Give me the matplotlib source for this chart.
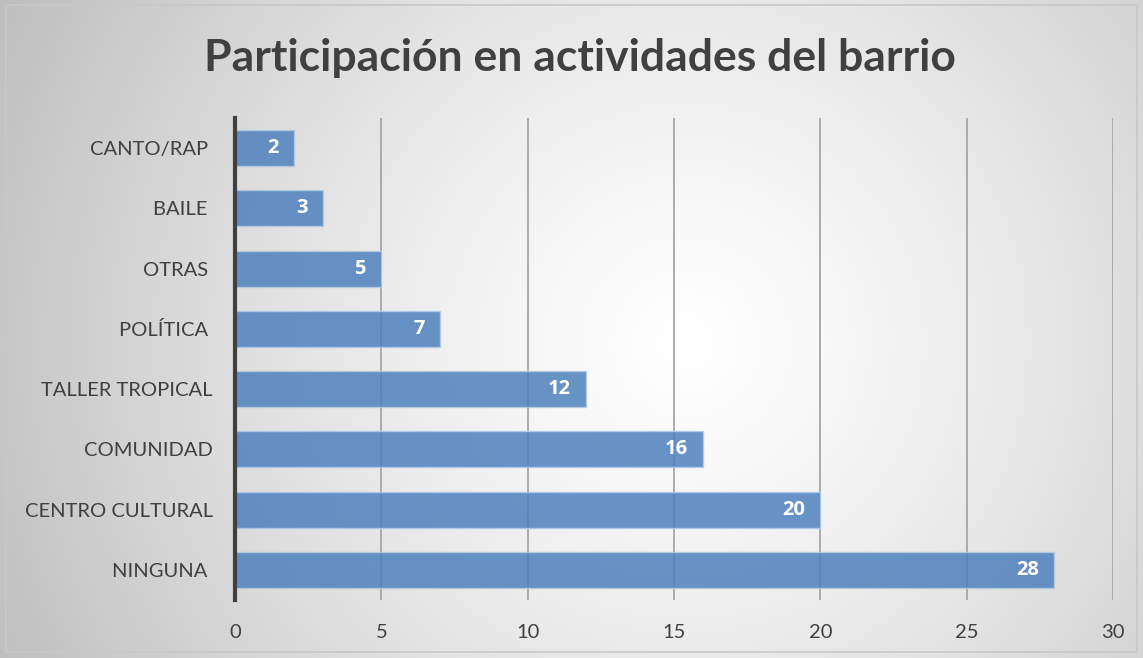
import numpy as np
import matplotlib
matplotlib.use("Agg")
import matplotlib.pyplot as plt
from matplotlib.patches import Rectangle

categories = ["CANTO/RAP ", "BAILE ", "OTRAS ", "POLÍTICA ", "TALLER TROPICAL",
              "COMUNIDAD", "CENTRO CULTURAL", "NINGUNA "]
values = [2, 3, 5, 7, 12, 16, 20, 28]
xticks = [0, 5, 10, 15, 20, 25, 30]
title = "Participación en actividades del barrio"

W, H = 1143, 658
fig = plt.figure(figsize=(W / 100, H / 100), dpi=100)

# radial gradient background
bg = fig.add_axes([0, 0, 1, 1], zorder=-10)
yy, xx = np.mgrid[0:H, 0:W]
cx, cy = 0.60 * W, 0.52 * H
r = np.sqrt(((xx - cx) / (0.60 * W)) ** 2 + ((yy - cy) / (0.60 * W)) ** 2)
val = 1.0 - 0.22 * np.clip(r, 0, 1.2) ** 1.3
bg.imshow(np.dstack([val, val, val]), extent=[0, W, H, 0], aspect="auto")
bg.set_xlim(0, W)
bg.set_ylim(H, 0)
bg.axis("off")
bg.add_patch(Rectangle((6, 5), W - 12, H - 11, fill=False, ec="#c8c8c8", lw=1.2))

ax = fig.add_axes([235 / W, 1 - 600 / H, (1113 - 235) / W, (600 - 118) / H])
ax.patch.set_alpha(0)
y = np.arange(len(categories))
bars = ax.barh(y, values, height=0.6, color="#4f81bd", alpha=0.85,
               edgecolor="#b4cbe6", linewidth=1, zorder=3)
for yi, v in zip(y, values):
    ax.annotate(str(v), xy=(v, yi), xytext=(-11, 0), textcoords="offset points",
                ha="right", va="center", color="white", fontsize=14.5,
                fontweight="bold", family="Open Sans", zorder=4)

ax.set_xlim(0, 30)
ax.set_ylim(len(categories) - 0.5, -0.5)
ax.set_xticks(xticks)
ax.set_xticklabels([str(t) for t in xticks])
ax.set_yticks(y)
ax.set_yticklabels(categories)
ax.grid(axis="x", color="#a6a6a6", lw=1.3, zorder=1)
for s in ["top", "right", "bottom"]:
    ax.spines[s].set_visible(False)
ax.spines["left"].set_color("#404040")
ax.spines["left"].set_linewidth(3)
ax.spines["left"].set_zorder(5)
ax.tick_params(axis="both", length=0, labelsize=14.5, labelcolor="#404040")
ax.tick_params(axis="y", pad=16)
ax.tick_params(axis="x", pad=17)
for lab in ax.get_xticklabels() + ax.get_yticklabels():
    lab.set_family("Lato")

fig.text(580 / W, 1 - 58 / H, title, ha="center", va="center",
         fontsize=32, fontweight="bold", color="#404040", family="Lato")

fig.savefig("out.png", dpi=100)
